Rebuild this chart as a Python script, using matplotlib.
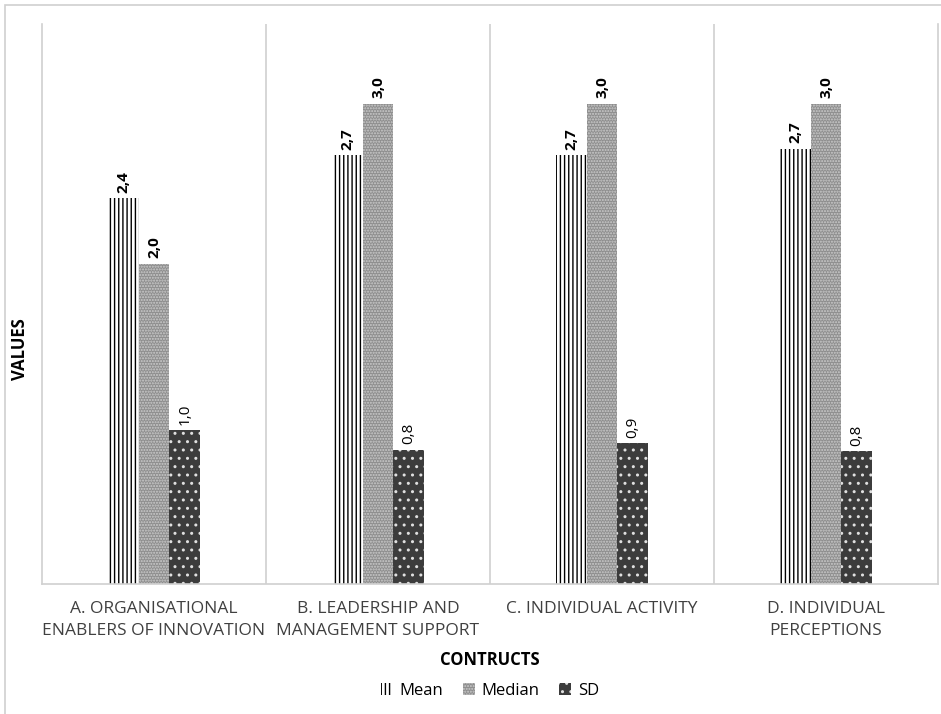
import numpy as np
import matplotlib as mpl
import matplotlib.pyplot as plt
from matplotlib.patches import Patch, Rectangle

categories = ['A. ORGANISATIONAL\nENABLERS OF INNOVATION',
              'B. LEADERSHIP AND\nMANAGEMENT SUPPORT',
              'C. INDIVIDUAL ACTIVITY',
              'D. INDIVIDUAL\nPERCEPTIONS']
mean_vals = [2.41, 2.68, 2.68, 2.72]
median_vals = [2.00, 3.00, 3.00, 3.00]
sd_vals = [0.96, 0.84, 0.88, 0.83]
series_names = ['Mean', 'Median', 'SD']

mpl.rcParams['font.family'] = ['Open Sans', 'DejaVu Sans']
mpl.rcParams['hatch.linewidth'] = 1.0

fig = plt.figure(figsize=(9.41, 7.14), dpi=100)
ax = fig.add_axes([42 / 941, 1 - 584 / 714, (938 - 42) / 941, (584 - 24) / 714])

x = np.arange(len(categories))
w = 0.138

# bar styles
styles = [
    dict(color='white', edgecolor='black', hatch='||||', linewidth=0),
    dict(color='#8e8e8e', edgecolor='#cccccc', hatch='......', linewidth=0),
    dict(color='#3c3c3c', edgecolor='#e0e0e0', hatch='..', linewidth=0),
]

def fmt(v):
    return f'{v:.1f}'.replace('.', ',')

for i, (vals, st) in enumerate(zip([mean_vals, median_vals, sd_vals], styles)):
    bars = ax.bar(x + (i - 1) * w, vals, w, **st)
    ax.bar_label(bars, labels=[fmt(v) for v in vals], rotation=90, padding=4,
                 fontsize=11, color='black',
                 fontweight='bold' if i < 2 else 'normal')

ax.set_xlim(-0.5, 3.5)
ax.set_ylim(0, 3.5)

# separators between categories
for xv in [0.5, 1.5, 2.5]:
    ax.axvline(xv, color='#d0d0d0', linewidth=1.2)

for s in ['left', 'right', 'bottom']:
    ax.spines[s].set_color('#d0d0d0')
    ax.spines[s].set_linewidth(1.2)
ax.spines['top'].set_visible(False)

ax.set_yticks([])
ax.set_xticks(x)
ax.set_xticklabels(categories, fontsize=12.5, color='#404040', linespacing=1.55)
ax.tick_params(axis='x', length=0, pad=12)

fig.text(490 / 941, 1 - 660 / 714, 'CONTRUCTS', ha='center', va='center',
         fontsize=12, fontweight='bold')
fig.text(20 / 941, 1 - 349 / 714, 'VALUES', ha='center', va='center',
         rotation=90, fontsize=12, fontweight='bold')

handles = [Patch(facecolor=st['color'], edgecolor=st['edgecolor'], hatch=st['hatch'],
                 linewidth=0) for st in styles]
fig.legend(handles, series_names, loc='center', bbox_to_anchor=(490 / 941, 1 - 691 / 714),
           ncol=3, frameon=False, fontsize=12, handlelength=0.7, handleheight=0.7,
           handletextpad=0.4, columnspacing=1.2)

# outer chart border
fig.patches.append(Rectangle((5 / 941, -0.05), 1.1, 1 - 5 / 714 + 0.05,
                             transform=fig.transFigure, fill=False,
                             edgecolor='#cfcfcf', linewidth=1.2))

fig.savefig('out.png', dpi=100)
